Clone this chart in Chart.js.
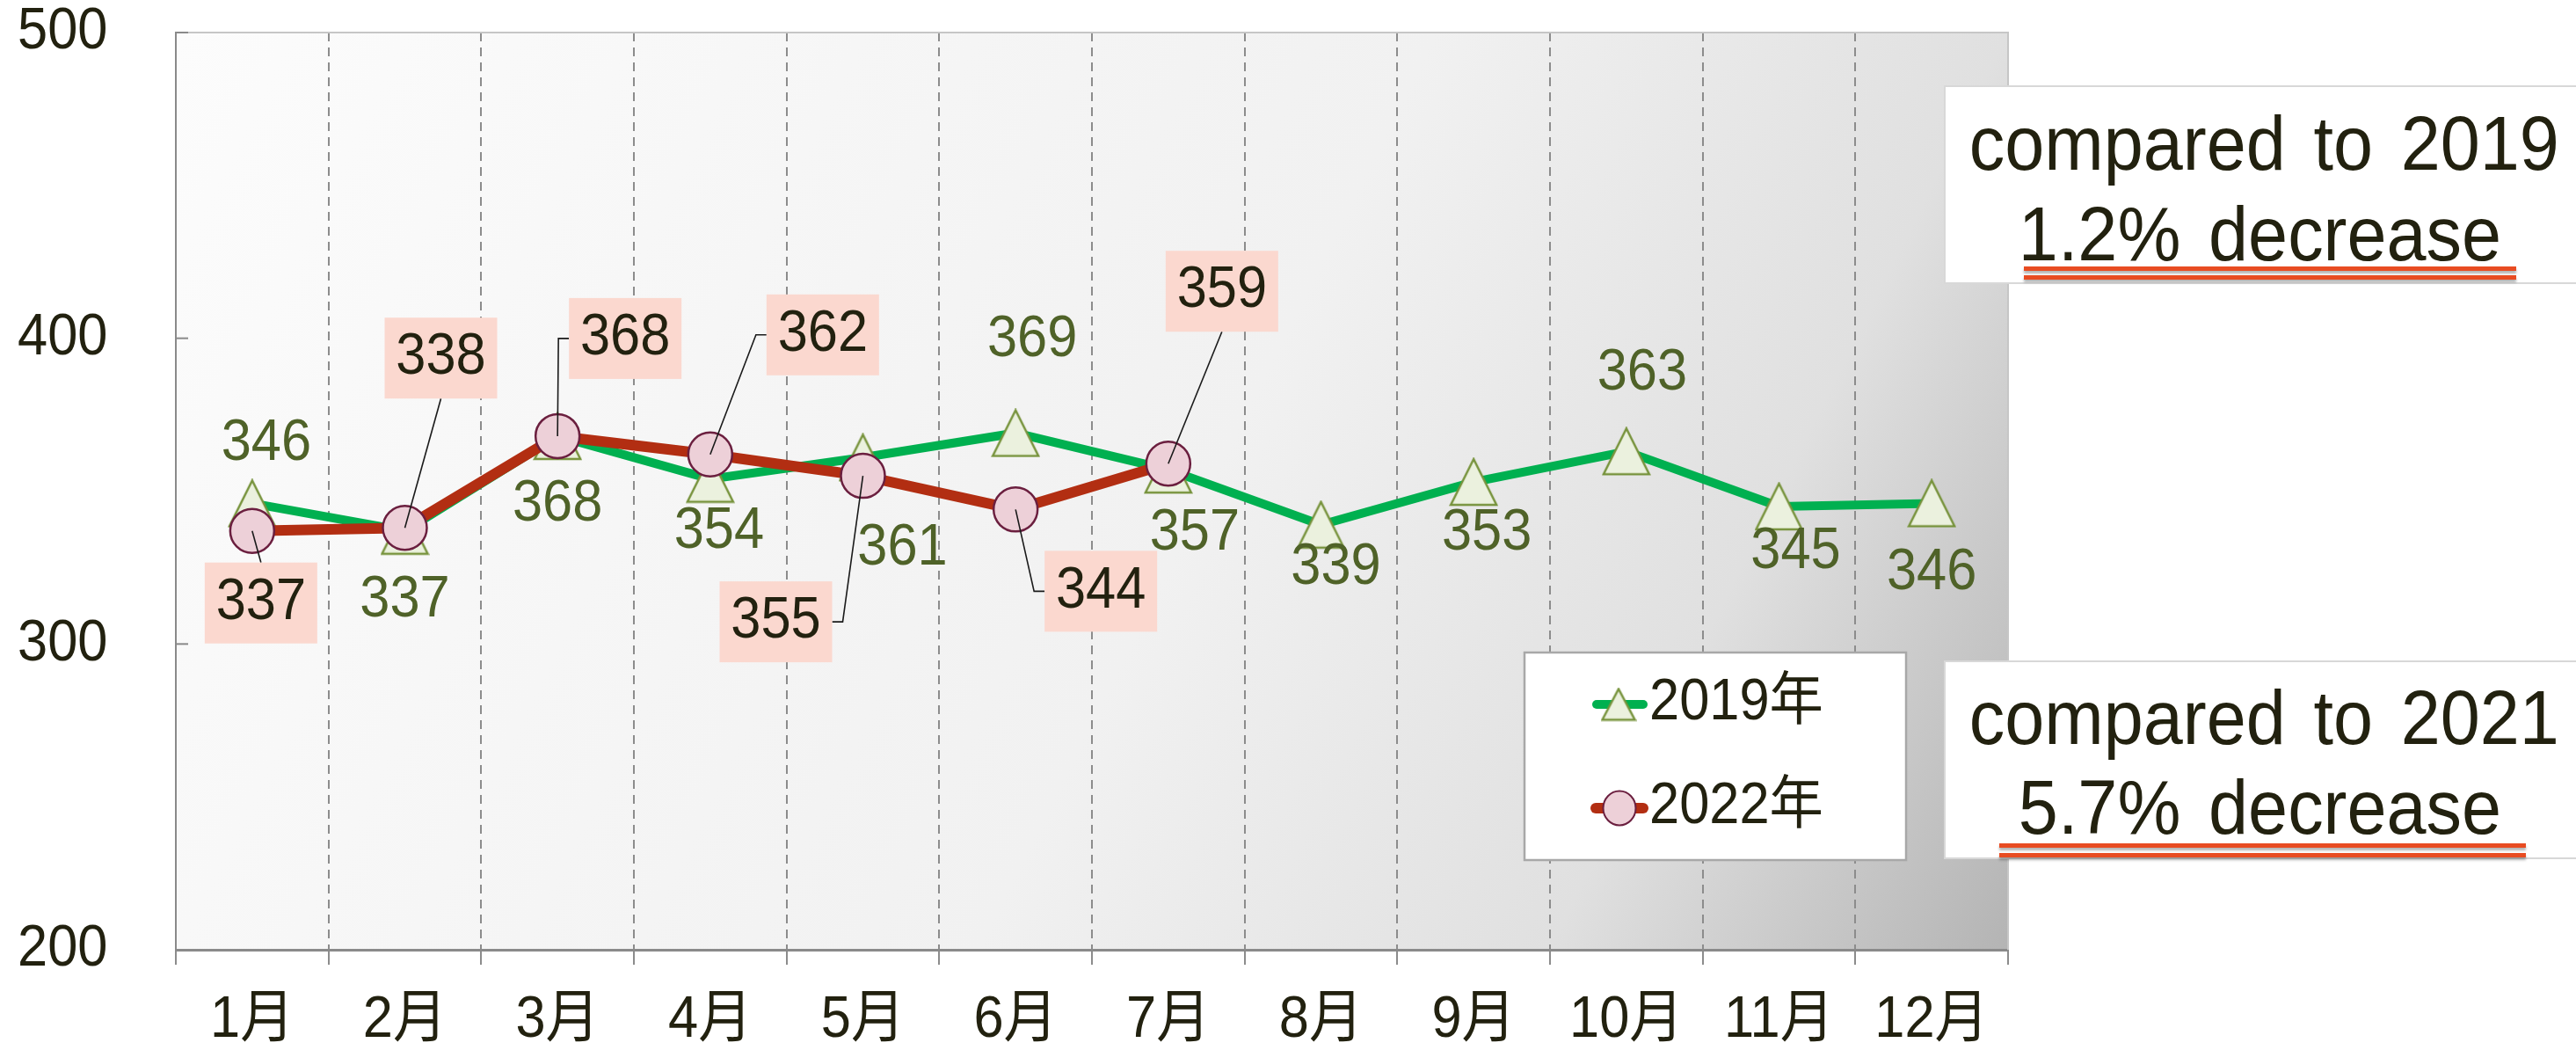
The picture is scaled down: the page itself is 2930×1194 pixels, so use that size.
<!DOCTYPE html>
<html>
<head>
<meta charset="utf-8">
<script src="https://cdn.jsdelivr.net/npm/chart.js@4.4.1/dist/chart.umd.min.js"></script>
<style>
  html, body { margin: 0; padding: 0; background: #fff; }
  #wrap { position: relative; width: 2930px; height: 1194px; overflow: hidden; }
  #chart { position: absolute; left: 0; top: 0; }
  .note { position: absolute; left: 2211px; width: 740px; background: #fff; border: 2px solid #d8d8d8; box-sizing: border-box; }
  .txt { position: absolute; left: 2211px; width: 719px; text-align: center; white-space: nowrap;
         font-family: 'Liberation Sans', Arial, 'Noto Sans CJK JP', sans-serif;
         font-size: 88px; line-height: 88px; color: #22210f; word-spacing: 10px;
         transform: scaleX(0.92); transform-origin: 50% 50%; }
  .ul { position: absolute; height: 5px; background: #e84c22; box-shadow: 0 3px 3px rgba(0,0,0,0.3); }
</style>
</head>
<body>
<div id="wrap">
  <canvas id="chart" width="2930" height="1194"></canvas>
  <div class="note" style="top:97px;height:226px"></div>
  <div class="txt" id="n1a" style="top:119px"></div>
  <div class="txt" id="n1b" style="top:222px"></div>
  <div class="ul" style="left:2302px;width:560px;top:303px"></div>
  <div class="ul" style="left:2302px;width:560px;top:313px"></div>
  <div class="note" style="top:751px;height:226px"></div>
  <div class="txt" id="n2a" style="top:772px"></div>
  <div class="txt" id="n2b" style="top:874px"></div>
  <div class="ul" style="left:2274px;width:599px;top:959px"></div>
  <div class="ul" style="left:2274px;width:599px;top:970px"></div>
</div>
<script>
// data
const months = ['1月','2月','3月','4月','5月','6月','7月','8月','9月','10月','11月','12月'];
const visitors2019 = [346, 337, 368, 354, 361, 369, 357, 339, 353, 363, 345, 346];
const visitors2022 = [337, 338, 368, 362, 355, 344, 359];
const seriesNames = ['2019年', '2022年'];
const yTicks = [200, 300, 400, 500];
const note2019 = ['compared to 2019', '1.2% decrease'];
const note2021 = ['compared to 2021', '5.7% decrease'];

// label placement (pixel offsets from the point)
const offs2019 = [[16,-68],[0,79],[0,78],[10,60],[45,104],[19,-106],[30,73],[17,49],[15,59],[18,-89],[19,52],[0,79]];
const offs2022 = [[10,82],[41,-193],[77,-111],[128,-136],[-99,166],[97,93],[61,-196]];

const FAMILY = "'Liberation Sans', Arial, 'Noto Sans CJK JP', sans-serif";
const TEXT_SX = 0.93; // narrow look of the original lettering
const TXT = '#22210f';
const GREEN = '#00b050';
const RED = '#b22e12';
const PINK = '#edd0d8';
const MAROON = '#6b1f3f';
const TRI_FILL = '#ebf1de';
const TRI_LINE = '#77933c';

document.getElementById('n1a').textContent = note2019[0];
document.getElementById('n1b').textContent = note2019[1];
document.getElementById('n2a').textContent = note2021[0];
document.getElementById('n2b').textContent = note2021[1];

function makeTriangle(w, h) {
  const c = document.createElement('canvas');
  c.width = w; c.height = h;
  const g = c.getContext('2d');
  g.beginPath();
  g.moveTo(2, h - 2);
  g.lineTo(w / 2, 2);
  g.lineTo(w - 2, h - 2);
  g.closePath();
  g.fillStyle = TRI_FILL;
  g.fill();
  g.lineWidth = 2.5;
  g.strokeStyle = TRI_LINE;
  g.stroke();
  return c;
}
const triangle = makeTriangle(56, 56);
const triangleSmall = makeTriangle(41, 39);

// squeeze every canvas text a little around its anchor
const narrowText = {
  id: 'narrowText',
  beforeInit(chart) {
    const ctx = chart.ctx;
    const orig = ctx.fillText;
    ctx.fillText = function (text, x, y, maxWidth) {
      this.save();
      this.translate(x, y);
      this.scale(TEXT_SX, 1);
      if (maxWidth === undefined) orig.call(this, text, 0, 0);
      else orig.call(this, text, 0, 0, maxWidth / TEXT_SX);
      this.restore();
    };
  }
};

const bgPlugin = {
  id: 'bg',
  beforeDraw(chart) {
    const {ctx, chartArea: a} = chart;
    const gr = ctx.createLinearGradient(a.left, a.top, a.right, a.bottom);
    gr.addColorStop(0, '#fcfcfc');
    gr.addColorStop(0.55, '#f1f1f1');
    gr.addColorStop(0.8, '#e0e0e0');
    gr.addColorStop(1, '#b4b4b4');
    ctx.save();
    ctx.fillStyle = gr;
    ctx.fillRect(a.left, a.top, a.right - a.left, a.bottom - a.top);
    ctx.restore();
  },
  beforeDatasetsDraw(chart) {
    const {ctx, chartArea: a, scales} = chart;
    ctx.save();
    ctx.strokeStyle = '#c6c6c6';
    ctx.lineWidth = 2;
    ctx.beginPath();
    ctx.moveTo(a.left, a.top);
    ctx.lineTo(a.right, a.top);
    ctx.lineTo(a.right, a.bottom);
    ctx.stroke();
    // inward y ticks
    ctx.strokeStyle = '#8a8a8a';
    yTicks.forEach(v => {
      const y = scales.y.getPixelForValue(v);
      ctx.beginPath();
      ctx.moveTo(a.left, y);
      ctx.lineTo(a.left + 14, y);
      ctx.stroke();
    });
    ctx.restore();
  }
};

const labelPlugin = {
  id: 'labels',
  afterDatasetsDraw(chart) {
    const {ctx, scales: {x, y}} = chart;
    ctx.save();
    ctx.font = '66px ' + FAMILY;
    ctx.textAlign = 'center';
    ctx.textBaseline = 'middle';

    // 2019 values
    ctx.fillStyle = '#4f6228';
    visitors2019.forEach((v, i) => {
      const px = x.getPixelForValue(i), py = y.getPixelForValue(v);
      ctx.fillText(String(v), px + offs2019[i][0], py + offs2019[i][1]);
    });

    // 2022 values in boxes with leaders
    const bw = 128, bh = 92;
    visitors2022.forEach((v, i) => {
      const px = x.getPixelForValue(i), py = y.getPixelForValue(v);
      const cx = px + offs2022[i][0], cy = py + offs2022[i][1];
      const l = cx - bw / 2, r = cx + bw / 2, t = cy - bh / 2, b = cy + bh / 2;
      ctx.strokeStyle = '#1a1a1a';
      ctx.lineWidth = 1.6;
      ctx.beginPath();
      ctx.moveTo(px, py);
      if (px >= l && px <= r) {
        ctx.lineTo(cx, cy > py ? t : b);
      } else if (px < l) {
        ctx.lineTo(l - 12, cy);
        ctx.lineTo(l, cy);
      } else {
        ctx.lineTo(r + 12, cy);
        ctx.lineTo(r, cy);
      }
      ctx.stroke();
      ctx.fillStyle = '#fbd8cf';
      ctx.fillRect(l, t, bw, bh);
      ctx.fillStyle = TXT;
      ctx.fillText(String(v), cx, cy);
    });

    // legend
    const ds = chart.data.datasets;
    ctx.fillStyle = '#fff';
    ctx.fillRect(1734, 742, 434, 236);
    ctx.strokeStyle = '#a8a8a8';
    ctx.lineWidth = 2.5;
    ctx.strokeRect(1734, 742, 434, 236);
    ctx.lineCap = 'round';
    ctx.strokeStyle = ds[0].borderColor;
    ctx.lineWidth = 10;
    ctx.beginPath(); ctx.moveTo(1816, 801); ctx.lineTo(1869, 801); ctx.stroke();
    ctx.drawImage(triangleSmall, 1841 - 20.5, 801 - 19.5);
    ctx.strokeStyle = ds[1].borderColor;
    ctx.lineWidth = 12;
    ctx.beginPath(); ctx.moveTo(1815, 919); ctx.lineTo(1869, 919); ctx.stroke();
    ctx.beginPath();
    ctx.ellipse(1842, 919, 18.5, 19.5, 0, 0, Math.PI * 2);
    ctx.fillStyle = ds[1].pointBackgroundColor;
    ctx.fill();
    ctx.lineWidth = 2;
    ctx.strokeStyle = ds[1].pointBorderColor;
    ctx.stroke();
    ctx.fillStyle = TXT;
    ctx.textAlign = 'left';
    ctx.fillText(ds[0].label, 1876, 800);
    ctx.fillText(ds[1].label, 1876, 918);
    ctx.restore();
  }
};

const axisFont = { family: FAMILY, size: 66, lineHeight: 1 };

new Chart(document.getElementById('chart'), {
  type: 'line',
  data: {
    labels: months,
    datasets: [
      {
        label: seriesNames[0],
        data: visitors2019,
        borderColor: GREEN,
        borderWidth: 10,
        pointStyle: triangle,
        pointRadius: 27,
        pointHoverRadius: 27,
        tension: 0,
        fill: false,
        order: 1
      },
      {
        label: seriesNames[1],
        data: visitors2022,
        borderColor: RED,
        borderWidth: 12,
        pointStyle: 'circle',
        pointRadius: 25,
        pointHoverRadius: 25,
        pointBackgroundColor: PINK,
        pointBorderColor: MAROON,
        pointBorderWidth: 2.5,
        tension: 0,
        fill: false,
        order: 0
      }
    ]
  },
  options: {
    responsive: false,
    animation: false,
    events: [],
    layout: { padding: { top: 37, right: 646, left: 20, bottom: 0 } },
    plugins: { legend: { display: false }, tooltip: { enabled: false } },
    scales: {
      x: {
        offset: true,
        grid: {
          offset: true,
          lineWidth: 2,
          color: c => (c.index === 0 || c.index === months.length) ? 'rgba(0,0,0,0)' : '#8c8c8c',
          tickLength: 17,
          tickColor: '#8c8c8c',
          tickWidth: 2
        },
        border: { color: '#8a8a8a', width: 3, dash: [10, 7] },
        ticks: { font: axisFont, color: TXT, padding: 31, maxRotation: 0, autoSkip: false },
        afterFit: s => { s.height = 114; }
      },
      y: {
        min: 200,
        max: 500,
        grid: { display: false, drawTicks: false },
        border: { color: '#8a8a8a', width: 2 },
        ticks: { stepSize: 100, font: axisFont, color: TXT, padding: 0, crossAlign: 'far' },
        afterFit: s => { s.width = 180; }
      }
    }
  },
  plugins: [narrowText, bgPlugin, labelPlugin]
});
</script>
</body>
</html>
